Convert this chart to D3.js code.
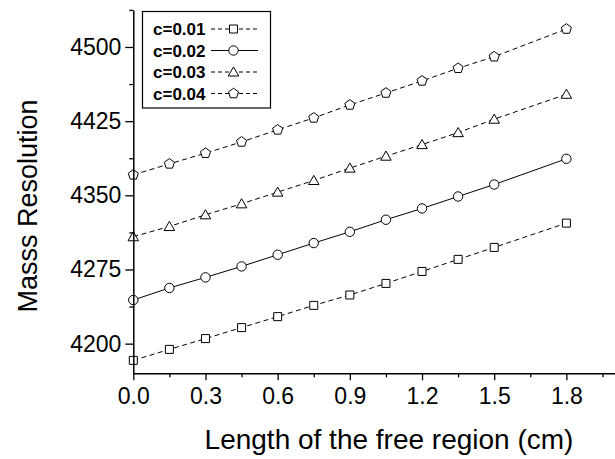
<!DOCTYPE html>
<html>
<head>
<meta charset="utf-8">
<script src="https://cdn.jsdelivr.net/npm/d3@7"></script>
<style>
  html, body { margin: 0; padding: 0; background: #fff; }
  svg { display: block; font-family: "Liberation Sans", Arial, Helvetica, sans-serif; }
</style>
</head>
<body>
<svg id="chart" width="615" height="459"></svg>
<script>
const xValues = [0, 0.15, 0.3, 0.45, 0.6, 0.75, 0.9, 1.05, 1.2, 1.35, 1.5, 1.8];
const c001 = [4183.1, 4194.2, 4205.1, 4216.2, 4227.3, 4238.7, 4249.2, 4260.9, 4273.0, 4285.2, 4297.3, 4321.9];
const c002 = [4244.1, 4256.3, 4267.0, 4278.1, 4289.9, 4301.7, 4313.1, 4325.3, 4336.7, 4348.8, 4360.9, 4386.9];
const c003 = [4308.1, 4318.5, 4330.3, 4341.4, 4353.2, 4365.0, 4377.5, 4389.6, 4401.3, 4413.4, 4427.0, 4452.2];
const c004 = [4370.7, 4381.8, 4392.6, 4404.0, 4416.2, 4428.3, 4441.4, 4453.5, 4465.7, 4478.5, 4490.2, 4518.2];
const seriesNames = ["c=0.01", "c=0.02", "c=0.03", "c=0.04"];
const xTickValues = [0, 0.3, 0.6, 0.9, 1.2, 1.5, 1.8];
const xMinorTicks = [0.15, 0.45, 0.75, 1.05, 1.35, 1.65, 1.95];
const yTickValues = [4200, 4275, 4350, 4425, 4500];
const yMinorTicks = [4237.5, 4312.5, 4387.5, 4462.5, 4537.5];
const xTitle = "Length of the free region (cm)";
const yTitle = "Masss Resolution";

const seriesValues = [c001, c002, c003, c004];
const symbolTypes = [d3.symbolSquare, d3.symbolCircle, d3.symbolTriangle, null];
const dashes = ["5,3.5", null, "5,3.5", "5,3.5"];

const svg = d3.select("#chart");
const x = d3.scaleLinear().domain([0, 2.0]).range([133.3, 614.5]);
const y = d3.scaleLinear().domain([4170, 4537.5]).range([373.3, 9.9]);

function pentagonPath(r) {
  const pts = d3.range(5).map(i => {
    const a = -Math.PI / 2 + i * 2 * Math.PI / 5;
    return [r * Math.cos(a), r * Math.sin(a)];
  });
  return "M" + pts.map(p => p.join(",")).join("L") + "Z";
}
function markerPath(i) {
  if (i === 0) return d3.symbol().type(d3.symbolSquare).size(64)();
  if (i === 1) return d3.symbol().type(d3.symbolCircle).size(Math.PI * 4.7 * 4.7)();
  if (i === 2) return d3.symbol().type(d3.symbolTriangle).size(48)();
  return pentagonPath(5.3);
}

// Lines
const line = d3.line().x((d, i) => x(xValues[i])).y(d => y(d));
seriesValues.forEach((vals, si) => {
  svg.append("path")
    .attr("d", line(vals))
    .attr("fill", "none")
    .attr("stroke", "#000")
    .attr("stroke-width", 1)
    .attr("stroke-dasharray", dashes[si]);
});
// Markers
seriesValues.forEach((vals, si) => {
  svg.append("g").selectAll("path").data(vals).join("path")
    .attr("d", markerPath(si))
    .attr("transform", (d, i) => `translate(${x(xValues[i])},${y(d) + (si === 2 ? 1 : 0)})`)
    .attr("fill", "#fff")
    .attr("stroke", "#000")
    .attr("stroke-width", 1);
});

// Axes
const axisFont = 23;
const gx = svg.append("g").attr("transform", `translate(0,${y.range()[0]})`)
  .call(d3.axisBottom(x).tickValues(xTickValues).tickFormat(d3.format(".1f")).tickSize(7).tickSizeOuter(0).tickPadding(7));
svg.append("g").attr("transform", `translate(0,${y.range()[0]})`)
  .call(d3.axisBottom(x).tickValues(xMinorTicks).tickFormat("").tickSize(4).tickSizeOuter(0))
  .select(".domain").remove();
const gy = svg.append("g").attr("transform", `translate(${x.range()[0]},0)`)
  .call(d3.axisLeft(y).tickValues(yTickValues).tickFormat(d3.format("d")).tickSize(8).tickSizeOuter(0).tickPadding(4));
svg.append("g").attr("transform", `translate(${x.range()[0]},0)`)
  .call(d3.axisLeft(y).tickValues(yMinorTicks).tickFormat("").tickSize(4).tickSizeOuter(0))
  .select(".domain").remove();

svg.selectAll(".domain").attr("stroke", "#000").attr("stroke-width", 1.5);
svg.selectAll(".tick line").attr("stroke", "#000").attr("stroke-width", 1.3);
svg.selectAll(".tick text").attr("font-size", axisFont).attr("font-family", "Liberation Sans, Arial, sans-serif").attr("fill", "#000");

// Axis titles
svg.append("text")
  .attr("x", 389).attr("y", 449)
  .attr("text-anchor", "middle")
  .attr("font-size", 28)
  .text(xTitle);
svg.append("text")
  .attr("transform", "translate(37,206) rotate(-90)")
  .attr("text-anchor", "middle")
  .attr("font-size", 27)
  .text(yTitle);

// Legend
const lg = svg.append("g");
lg.append("rect").attr("x", 142.5).attr("y", 11.5).attr("width", 128).attr("height", 96.5)
  .attr("fill", "#fff").attr("stroke", "#000").attr("stroke-width", 1.2);
seriesNames.forEach((name, si) => {
  const by = 35 + si * 21.5;
  lg.append("text").attr("x", 153).attr("y", by)
    .attr("font-size", 17).attr("font-weight", "bold").text(name);
  const cy = by - 6;
  lg.append("line").attr("x1", 211).attr("x2", 258).attr("y1", cy).attr("y2", cy)
    .attr("stroke", "#000").attr("stroke-width", 1).attr("stroke-dasharray", dashes[si] ? "4,3" : null);
  lg.append("path").attr("d", markerPath(si))
    .attr("transform", `translate(233.5,${cy + (si === 2 ? 1 : 0)})`)
    .attr("fill", "#fff").attr("stroke", "#000").attr("stroke-width", 1);
});
</script>
</body>
</html>
